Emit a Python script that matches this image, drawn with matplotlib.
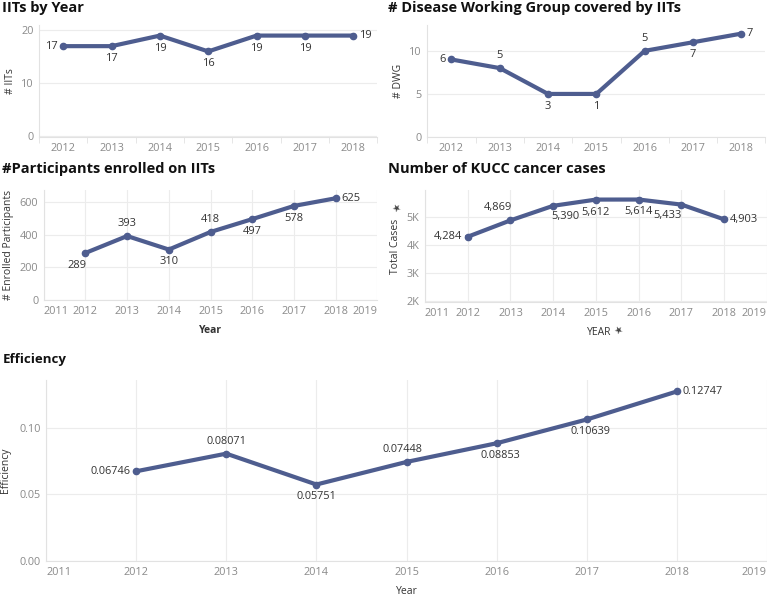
import matplotlib
matplotlib.use('Agg')
import matplotlib.pyplot as plt
import numpy as np

plt.rcParams['font.family'] = ['Open Sans', 'DejaVu Sans']

# data
years = [2012, 2013, 2014, 2015, 2016, 2017, 2018]
iits = [17, 17, 19, 16, 19, 19, 19]
dwg_pos = [9, 8, 5, 5, 10, 11, 12]
dwg_labels = ['6', '5', '3', '1', '5', '7', '7']
participants = [289, 393, 310, 418, 497, 578, 625]
cases = [4284, 4869, 5390, 5612, 5614, 5433, 4903]
efficiency = [0.06746, 0.08071, 0.05751, 0.07448, 0.08853, 0.10639, 0.12747]
eff_labels = ['0.06746', '0.08071', '0.05751', '0.07448', '0.08853', '0.10639', '0.12747']

LINE = '#4e5d8f'
GRID = '#ececec'
TICK = '#8a8a8a'
TXT = '#333333'

fig = plt.figure(figsize=(7.67, 5.97), dpi=100)


def style(ax):
    for s in ['top', 'right']:
        ax.spines[s].set_visible(False)
    for s in ['left', 'bottom']:
        ax.spines[s].set_color('#e2e2e2')
        ax.spines[s].set_linewidth(0.8)
    ax.tick_params(axis='both', length=0, labelsize=7.8, labelcolor=TICK, pad=4)
    ax.grid(axis='y', color=GRID, lw=0.8)
    ax.set_axisbelow(True)


def label_points(ax, xs, ys, texts, places, fs=8):
    # places: (dx, dy, ha, va) in points
    for x, y, t, (dx, dy, ha, va) in zip(xs, ys, texts, places):
        ax.annotate(t, (x, y), xytext=(dx, dy), textcoords='offset points',
                    ha=ha, va=va, fontsize=fs, color=TXT)


L = (-4, 0, 'right', 'center')
R = (4, 0, 'left', 'center')
B = (0, -5, 'center', 'top')
A = (0, 5, 'center', 'bottom')


def cont_xaxis(ax):
    ax.set_xlim(2011, 2019)
    ax.set_xticks(range(2011, 2020))
    labs = ax.set_xticklabels([str(y) for y in range(2011, 2020)])
    labs[0].set_ha('left')
    labs[-1].set_ha('right')
    ax.grid(axis='x', color=GRID, lw=0.8)


# --- IITs by Year
ax1 = fig.add_axes([0.051, 0.7705, 0.441, 0.1876])
style(ax1)
xi = np.arange(len(years))
ax1.plot(xi, iits, color=LINE, lw=3, marker='o', ms=4.5)
ax1.set_xlim(-0.5, 6.5)
ax1.set_ylim(-0.2, 21)
ax1.set_yticks([0, 10, 20])
ax1.set_xticks(xi)
ax1.set_xticklabels(years)
ax1.set_xticks(np.arange(-0.5, 7, 1), minor=True)
ax1.tick_params(axis='x', which='minor', length=4, color='#e2e2e2')
ax1.set_ylabel('# IITs', fontsize=7.5, color=TXT, labelpad=4)
label_points(ax1, xi, iits, [str(v) for v in iits], [L, B, B, B, B, B, R])
fig.text(0.003, 0.998, 'IITs by Year', fontsize=10.5, weight='bold', va='top', color='#111')

# --- Disease Working Group
ax2 = fig.add_axes([0.557, 0.7705, 0.441, 0.1876])
style(ax2)
ax2.plot(xi, dwg_pos, color=LINE, lw=3, marker='o', ms=4.5)
ax2.set_xlim(-0.5, 6.5)
ax2.set_ylim(0, 13)
ax2.set_yticks([0, 5, 10])
ax2.set_xticks(xi)
ax2.set_xticklabels(years)
ax2.set_xticks(np.arange(-0.5, 7, 1), minor=True)
ax2.tick_params(axis='x', which='minor', length=4, color='#e2e2e2')
ax2.set_ylabel('# DWG', fontsize=7.5, color=TXT, labelpad=4)
label_points(ax2, xi, dwg_pos, dwg_labels, [L, A, B, B, A, B, R])
fig.text(0.506, 0.998, '# Disease Working Group covered by IITs', fontsize=10.5,
         weight='bold', va='top', color='#111')

# --- Participants
ax3 = fig.add_axes([0.057, 0.4975, 0.435, 0.184])
style(ax3)
ax3.plot(years, participants, color=LINE, lw=3, marker='o', ms=4.5)
cont_xaxis(ax3)
ax3.set_ylim(0, 675)
ax3.set_yticks([0, 200, 400, 600])
ax3.set_ylabel('# Enrolled Participants', fontsize=7.5, color=TXT, labelpad=4)
ax3.set_xlabel('Year', fontsize=7.5, color=TXT, weight='bold', labelpad=6)
label_points(ax3, years, participants, [str(v) for v in participants],
             [(-6, -5, 'center', 'top'), A, B, A, B, B, R])
fig.text(0.003, 0.728, '#Participants enrolled on IITs', fontsize=10.5,
         weight='bold', va='top', color='#111')

# --- KUCC cancer cases
ax4 = fig.add_axes([0.554, 0.494, 0.446, 0.188])
style(ax4)
ax4.plot(years, cases, color=LINE, lw=3, marker='o', ms=4.5)
cont_xaxis(ax4)
ax4.set_ylim(1950, 5960)
ax4.set_yticks([2000, 3000, 4000, 5000])
ax4.set_yticklabels(['2K', '3K', '4K', '5K'])
ax4.set_ylabel('Total Cases', fontsize=7.5, color=TXT, labelpad=4)
ax4.set_xlabel('YEAR', fontsize=7.5, color=TXT, labelpad=6)
ax4.xaxis.label.set_x(0.51)
label_points(ax4, years, cases, [f'{v:,}' for v in cases],
             [L, (-9, 5, 'center', 'bottom'), (9, -4, 'center', 'top'), B, B,
              (-10, -4, 'center', 'top'), R])
fig.text(0.506, 0.728, 'Number of KUCC cancer cases', fontsize=10.5,
         weight='bold', va='top', color='#111')
# little pin glyphs next to the pinned axes
fig.text(0.807, 0.4456, '\u2605', fontsize=7, color='#444', va='center', ha='center', rotation=30)
fig.text(0.5176, 0.650, '\u2605', fontsize=7, color='#444', va='center', ha='center', rotation=30)

# --- Efficiency
ax5 = fig.add_axes([0.060, 0.0603, 0.940, 0.303])
style(ax5)
ax5.plot(years, efficiency, color=LINE, lw=3, marker='o', ms=4.5)
cont_xaxis(ax5)
ax5.set_ylim(0, 0.136)
ax5.set_yticks([0.0, 0.05, 0.10])
ax5.set_yticklabels(['0.00', '0.05', '0.10'])
ax5.set_ylabel('Efficiency', fontsize=7.5, color=TXT, labelpad=6)
ax5.set_xlabel('Year', fontsize=7.5, color=TXT, labelpad=6)
label_points(ax5, years, efficiency, eff_labels,
             [L, A, B, (-3, 5, 'center', 'bottom'), (3, -5, 'center', 'top'),
              (3, -5, 'center', 'top'), R], fs=7.8)
fig.text(0.003, 0.408, 'Efficiency', fontsize=9.5, weight='bold', va='top', color='#111')

fig.savefig('out.png', dpi=100, facecolor='white')
